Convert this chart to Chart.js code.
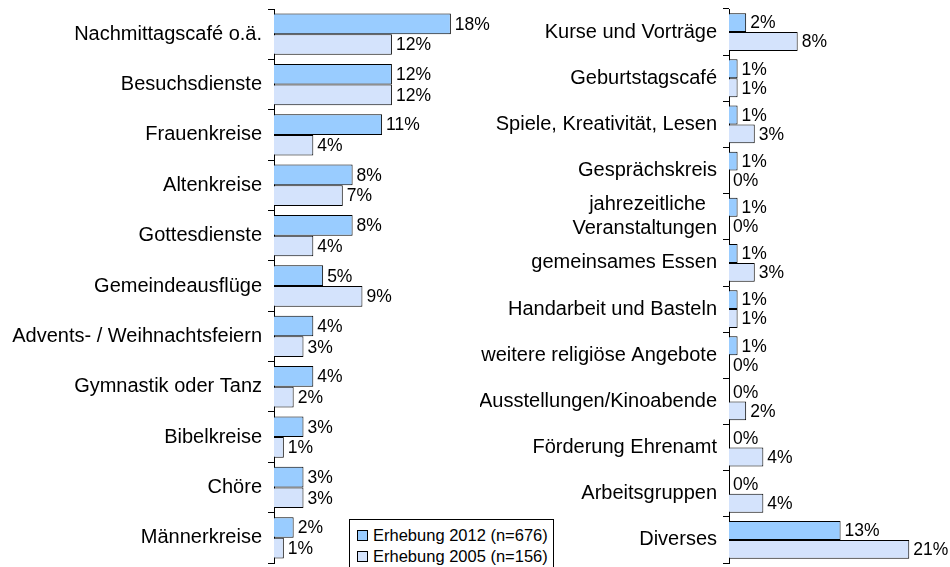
<!DOCTYPE html>
<html lang="de">
<head>
    <meta charset="UTF-8">
    <title>Angebote 2012 / 2005</title>
    <script src="https://cdn.jsdelivr.net/npm/chart.js"></script>
    <style>
        body { margin: 0; background: #fff; font-family: 'Liberation Sans', Arial, sans-serif; }
        #wrap { position: relative; width: 950px; height: 567px; overflow: hidden; }
        .panel { position: absolute; top: 0; height: 567px; }
        #left { left: 0; width: 500px; }
        #right { left: 480px; width: 470px; }
        #legend {
            position: absolute; left: 349px; top: 519px; width: 205px; height: 56px;
            border: 1px solid #000; background: #fff; box-sizing: border-box;
            padding: 4px 0 0 7px; font-size: 16.5px; color: #000;
        }
        #legend div { height: 21px; line-height: 22px; white-space: nowrap; }
        #legend span.box {
            display: inline-block; width: 9px; height: 9px; border: 1px solid #000;
            margin-right: 5px; vertical-align: 0px;
        }
    </style>
</head>
<body>
<div id="wrap">
    <div class="panel" id="left"><canvas id="leftChart"></canvas></div>
    <div class="panel" id="right"><canvas id="rightChart"></canvas></div>
    <div id="legend"></div>
</div>
<script>
    // Daten (Anteile in %)
    const seriesNames = ['Erhebung 2012 (n=676)', 'Erhebung 2005 (n=156)'];
    const seriesColors = ['#99CCFF', '#D4E3FC'];

    const leftLabels = ['Nachmittagscafé o.ä.', 'Besuchsdienste', 'Frauenkreise', 'Altenkreise',
        'Gottesdienste', 'Gemeindeausflüge', 'Advents- / Weihnachtsfeiern', 'Gymnastik oder Tanz',
        'Bibelkreise', 'Chöre', 'Männerkreise'];
    const left2012 = [18, 12, 11, 8, 8, 5, 4, 4, 3, 3, 2];
    const left2005 = [12, 12, 4, 7, 4, 9, 3, 2, 1, 3, 1];

    const rightLabels = ['Kurse und Vorträge', 'Geburtstagscafé', 'Spiele, Kreativität, Lesen',
        'Gesprächskreis', ['jahrezeitliche  ', 'Veranstaltungen'], 'gemeinsames Essen',
        'Handarbeit und Basteln', 'weitere religiöse Angebote', 'Ausstellungen/Kinoabende',
        'Förderung Ehrenamt', 'Arbeitsgruppen', 'Diverses'];
    const right2012 = [2, 1, 1, 1, 1, 1, 1, 1, 0, 0, 0, 13];
    const right2005 = [8, 1, 3, 0, 0, 3, 1, 0, 2, 4, 4, 21];

    const FONT = "'Liberation Sans', Arial, sans-serif";

    // Prozentwerte rechts neben die Balken schreiben
    const valueLabels = {
        id: 'valueLabels',
        afterDatasetsDraw(chart) {
            const ctx = chart.ctx;
            ctx.save();
            ctx.font = '17.5px ' + FONT;
            ctx.fillStyle = '#000';
            ctx.textAlign = 'left';
            ctx.textBaseline = 'middle';
            chart.data.datasets.forEach((ds, i) => {
                chart.getDatasetMeta(i).data.forEach((bar, j) => {
                    ctx.fillText(ds.data[j] + '%', bar.x + 4, bar.y + 1);
                });
            });
            ctx.restore();
        }
    };

    function makeChart(id, labels, d2012, d2005, axisWidth, xMax, padRight) {
        return new Chart(document.getElementById(id), {
            type: 'bar',
            data: {
                labels: labels,
                datasets: [{
                    label: seriesNames[0],
                    data: d2012,
                    backgroundColor: seriesColors[0],
                    borderColor: '#000',
                    borderWidth: 1
                }, {
                    label: seriesNames[1],
                    data: d2005,
                    backgroundColor: seriesColors[1],
                    borderColor: '#000',
                    borderWidth: 1
                }]
            },
            options: {
                indexAxis: 'y',
                responsive: true,
                maintainAspectRatio: false,
                animation: false,
                datasets: { bar: { barPercentage: 1, categoryPercentage: 0.82 } },
                layout: { padding: { top: 9, bottom: 4, left: 0, right: padRight } },
                plugins: { legend: { display: false }, tooltip: { enabled: false } },
                scales: {
                    x: { display: false, min: 0, max: xMax },
                    y: {
                        afterFit: s => { s.width = axisWidth; s.paddingTop = 0; s.paddingBottom = 0; },
                        grid: { display: true, drawOnChartArea: false, drawTicks: true, tickLength: 6, color: '#000', offset: true },
                        border: { display: true, color: '#000' },
                        ticks: { color: '#000', padding: 6, autoSkip: false, font: { family: FONT, size: 20 } }
                    }
                }
            },
            plugins: [valueLabels]
        });
    }

    makeChart('leftChart', leftLabels, left2012, left2005, 274, 23, 0);
    makeChart('rightChart', rightLabels, right2012, right2005, 249, 24, 15);

    document.getElementById('legend').innerHTML = seriesNames.map((n, i) =>
        '<div><span class="box" style="background:' + seriesColors[i] + '"></span>' + n + '</div>').join('');
</script>
</body>
</html>
